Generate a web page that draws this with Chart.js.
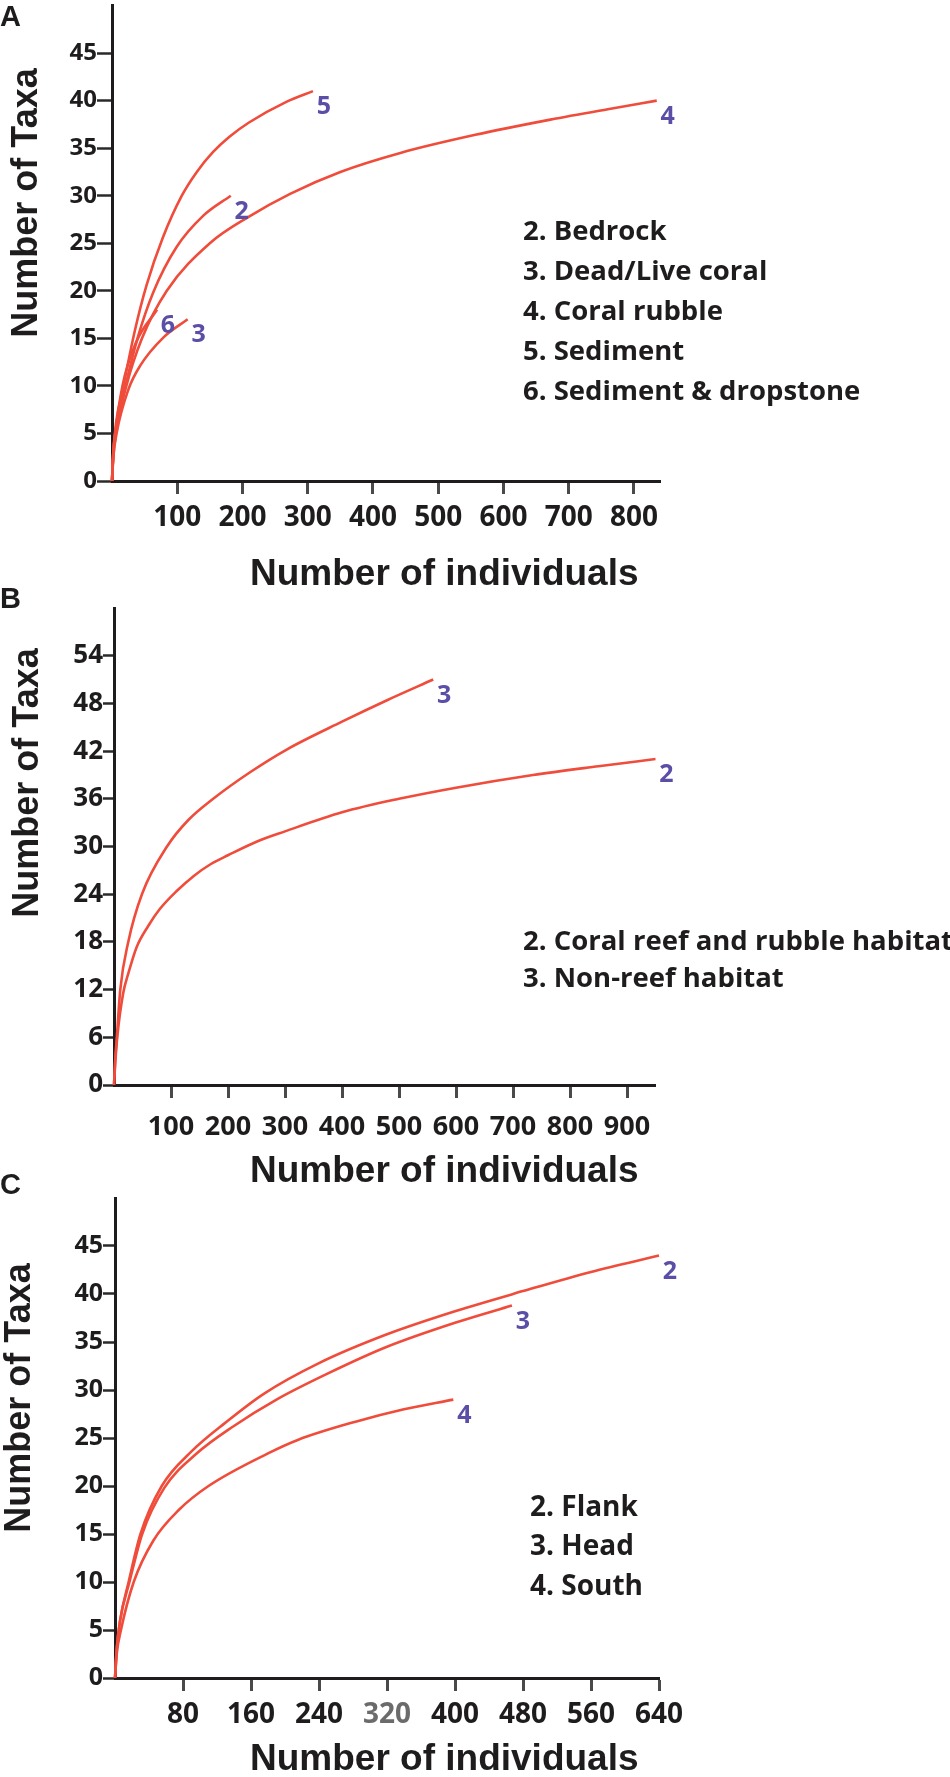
<!DOCTYPE html>
<html>
<head>
<meta charset="utf-8">
<script src="https://cdn.jsdelivr.net/npm/chart.js@4.4.1/dist/chart.umd.min.js"></script>
<style>
  html, body { margin: 0; padding: 0; background: #fff; }
  #page { position: relative; width: 950px; height: 1777px; overflow: hidden; background: #fff; }
  canvas { position: absolute; left: 0; }
</style>
</head>
<body>
<div id="page">
  <canvas id="chartA"></canvas>
  <canvas id="chartB"></canvas>
  <canvas id="chartC"></canvas>
</div>
<script>
// ---- data: [number of individuals, number of taxa] ----

// panel A
const habitatNumA = [2, 3, 4, 5, 6]
const habitatNameA = ['Bedrock', 'Dead/Live coral', 'Coral rubble', 'Sediment', 'Sediment & dropstone']
const bedrockA = [[0,0],[2,3],[5,5],[20,9.8],[40,15.2],[63,19.8],[99,24.6],[140,27.9],[182,30]]
const deadLiveCoralA = [[0,0],[2,2.5],[7,5],[25,9.6],[43,12.1],[79,15.1],[116,17]]
const coralRubbleA = [[0,0],[2,2.5],[6,5],[22,10],[46,15],[84,20],[150,25],[210,27.8],[273,30.2],[350,32.5],[442,34.5],[557,36.4],[672,38],[760,39.1],[835,40]]
const sedimentA = [[0,0],[2,3],[6,6],[17,9.8],[35,15.8],[53,20.6],[78,25.6],[107,30],[130,32.5],[155,34.6],[180,36.2],[210,37.7],[268,39.9],[308,41]]
const dropstoneA = [[0,0],[2,3],[5,5],[16,10],[37,14.6],[69,18]]
const xTicksA = [100, 200, 300, 400, 500, 600, 700, 800]
const yTicksA = [0, 5, 10, 15, 20, 25, 30, 35, 40, 45]

// panel B
const habitatNumB = [2, 3]
const habitatNameB = ['Coral reef and rubble habitat', 'Non-reef habitat']
const reefRubbleB = [[0,0],[2,2.6],[6,6.2],[16,11.5],[25,14],[40,17.4],[60,20],[80,22.1],[110,24.4],[140,26.3],[170,27.8],[200,28.9],[250,30.6],[300,31.9],[400,34.3],[500,36],[600,37.4],[735,39],[850,40.1],[950,41]]
const nonReefB = [[0,0],[2,3],[5,6],[11,12],[25,18],[49,24],[93,30],[130,33.3],[174,36],[240,39.4],[303,42.2],[400,45.7],[479,48.4],[560,51]]
const xTicksB = [100, 200, 300, 400, 500, 600, 700, 800, 900]
const yTicksB = [0, 6, 12, 18, 24, 30, 36, 42, 48, 54]

// panel C
const habitatNumC = [2, 3, 4]
const habitatNameC = ['Flank', 'Head', 'South']
const flankC = [[0,0],[2,3],[6,6],[16,10],[30,15],[55,20],[90,23.6],[130,26.6],[175,29.6],[240,32.8],[320,35.8],[400,38.2],[480,40.3],[560,42.3],[640,44]]
const headC = [[0,0],[2,3],[6,6],[17,10],[32,15],[58,19.8],[95,23.3],[139,26.2],[190,29],[250,31.7],[320,34.5],[400,37],[467,38.8]]
const southC = [[0,0],[2,2.5],[7,5],[22,10],[45,14.3],[75,17.5],[110,20],[180,23.4],[215,24.8],[283,26.7],[340,28],[398,29]]
const xTicksC = [80, 160, 240, 320, 400, 480, 560, 640]
const yTicksC = [0, 5, 10, 15, 20, 25, 30, 35, 40, 45]

const LINE = '#f04c3b'
const INK = '#1f1c1d'
const NUM = '#5a4ea6'
const TICKFONT = 'Open Sans'
const TITLEFONT = 'Liberation Sans'

function toPoints(arr) {
    return arr.map(p => ({x: p[0], y: p[1]}))
}

function makePanel(id, p)
{
    const canvas = document.getElementById(id)
    canvas.width = 950
    canvas.height = p.canvasHeight
    canvas.style.top = p.canvasTop + 'px'
    const off = p.canvasTop
    const xAxisHeight = p.canvasHeight - (p.area.bottom - off)

    const textPlugin = {
        id: 'panelText',
        afterDraw(chart) {
            const ctx = chart.ctx
            ctx.save()
            ctx.fillStyle = INK
            // panel letter
            ctx.font = 'bold 29px "' + TITLEFONT + '"'
            ctx.textAlign = 'left'
            ctx.textBaseline = 'alphabetic'
            ctx.fillText(p.letter, 0, p.letterBase - off)
            // x title
            ctx.font = 'bold 37px "' + TITLEFONT + '"'
            ctx.fillText('Number of individuals', 250, p.xTitleBase - off)
            // y title
            ctx.save()
            ctx.translate(p.yTitle[0], p.yTitle[1] - off)
            ctx.rotate(-Math.PI / 2)
            ctx.font = 'bold 36px "' + TITLEFONT + '"'
            ctx.textAlign = 'center'
            ctx.textBaseline = 'middle'
            ctx.fillText('Number of Taxa', 0, 0)
            ctx.restore()
            // legend
            ctx.font = 'bold ' + p.legendSize + 'px "' + TICKFONT + '"'
            ctx.textBaseline = 'middle'
            ctx.textAlign = 'left'
            p.nums.forEach((n, i) => {
                ctx.fillText(n + '. ' + p.names[i], p.legend[0], p.legend[1] - off + i * p.legend[2])
            })
            // curve numbers next to each curve's end
            ctx.fillStyle = NUM
            ctx.font = 'bold 25px "' + TICKFONT + '"'
            ctx.textAlign = 'center'
            chart.data.datasets.forEach((ds, i) => {
                const pts = chart.getDatasetMeta(i).data
                const last = pts[pts.length - 1]
                ctx.fillText(ds.label, last.x + 11, last.y + 16)
            })
            ctx.restore()
        }
    }

    return new Chart(canvas, {
        type: 'line',
        data: {
            datasets: p.series.map((s, i) => ({
                label: String(p.seriesNum[i]),
                data: toPoints(s),
                borderColor: LINE,
                borderWidth: 2.6,
                pointRadius: 0,
                cubicInterpolationMode: 'monotone',
                fill: false,
                clip: false
            }))
        },
        options: {
            responsive: false,
            animation: false,
            events: [],
            layout: {
                padding: {
                    left: 0,
                    top: p.area.top - off,
                    right: 950 - p.area.right,
                    bottom: 0
                }
            },
            plugins: {
                legend: { display: false },
                tooltip: { enabled: false }
            },
            scales: {
                x: {
                    type: 'linear',
                    min: 0,
                    max: p.xMax,
                    afterBuildTicks: s => { s.ticks = p.xTicks.map(v => ({value: v})) },
                    afterFit: s => { s.height = xAxisHeight; s.paddingLeft = 0; s.paddingRight = 0 },
                    border: { display: true, color: INK, width: 3 },
                    grid: { drawOnChartArea: false, drawTicks: true, tickLength: 13, tickColor: '#4a4a4a', tickWidth: 3 },
                    ticks: {
                        padding: p.xPad,
                        maxRotation: 0,
                        autoSkip: false,
                        color: ctx => (p.grayTick === ctx.tick.value ? '#6b6b6b' : INK),
                        font: { family: TICKFONT, weight: 'bold', size: p.xFont }
                    }
                },
                y: {
                    type: 'linear',
                    min: 0,
                    max: p.yMax,
                    afterBuildTicks: s => { s.ticks = p.yTicks.map(v => ({value: v})) },
                    afterFit: s => { s.width = p.area.left; s.paddingTop = 0; s.paddingBottom = 0 },
                    border: { display: true, color: INK, width: 3 },
                    grid: { drawOnChartArea: false, drawTicks: true, tickLength: p.yTickLen, tickColor: '#2a2a2a', tickWidth: 2.5 },
                    ticks: {
                        padding: 0,
                        autoSkip: false,
                        color: INK,
                        font: { family: TICKFONT, weight: 'bold', size: p.yFont }
                    }
                }
            }
        },
        plugins: [textPlugin]
    })
}

makePanel('chartA', {
    canvasTop: 0, canvasHeight: 600,
    area: { left: 112, right: 660, top: 5.5, bottom: 481 },
    xMax: 840, yMax: 50,
    xTicks: xTicksA, yTicks: yTicksA,
    xFont: 28, yFont: 24, xPad: 7, yTickLen: 15,
    series: [bedrockA, deadLiveCoralA, coralRubbleA, sedimentA, dropstoneA],
    seriesNum: habitatNumA,
    nums: habitatNumA, names: habitatNameA,
    legend: [523, 232, 40], legendSize: 27.5,
    letter: 'A', letterBase: 26,
    xTitleBase: 585, yTitle: [27, 203]
})

makePanel('chartB', {
    canvasTop: 560, canvasHeight: 640,
    area: { left: 114, right: 655.5, top: 608, bottom: 1085 },
    xMax: 950, yMax: 60,
    xTicks: xTicksB, yTicks: yTicksB,
    xFont: 27, yFont: 26, xPad: 13, yTickLen: 11,
    series: [reefRubbleB, nonReefB],
    seriesNum: habitatNumB,
    nums: habitatNumB, names: habitatNameB,
    legend: [523, 942, 37], legendSize: 27.5,
    letter: 'B', letterBase: 608,
    xTitleBase: 1182, yTitle: [28, 783]
})

makePanel('chartC', {
    canvasTop: 1140, canvasHeight: 637,
    area: { left: 115, right: 659, top: 1198, bottom: 1678 },
    xMax: 640, yMax: 50,
    xTicks: xTicksC, yTicks: yTicksC, grayTick: 320,
    xFont: 28, yFont: 25, xPad: 7, yTickLen: 12,
    series: [flankC, headC, southC],
    seriesNum: habitatNumC,
    nums: habitatNumC, names: habitatNameC,
    legend: [530, 1508, 39.5], legendSize: 28,
    letter: 'C', letterBase: 1194,
    xTitleBase: 1770, yTitle: [20, 1398]
})
</script>
</body>
</html>
